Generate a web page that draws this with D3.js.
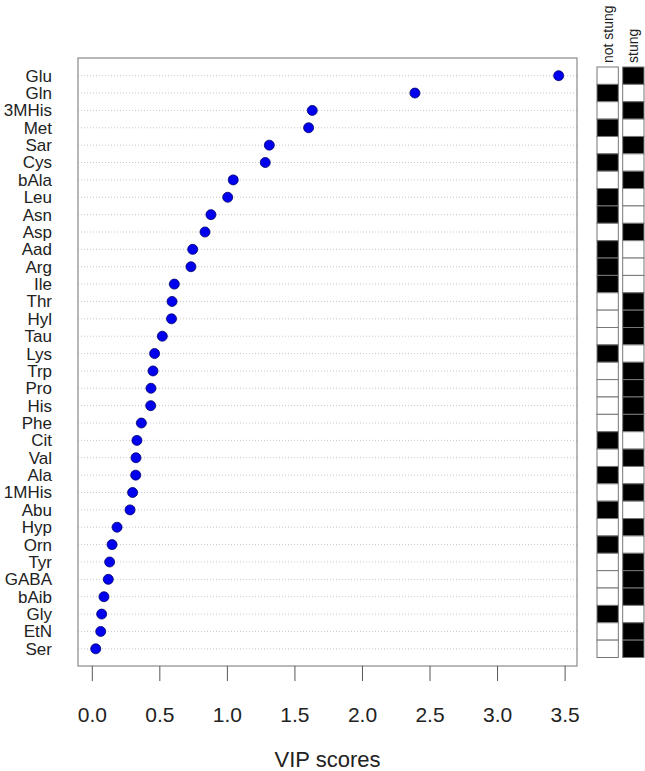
<!DOCTYPE html>
<html>
<head>
<meta charset="utf-8">
<script src="https://cdn.jsdelivr.net/npm/d3@7"></script>
<style>
  body { margin: 0; background: #fff; }
  text { font-family: "Liberation Sans", Arial, sans-serif; fill: #222; }
</style>
</head>
<body>
<script>
var w = 645;
var h = 771;

// metabolites, top to bottom
var names = ["Glu", "Gln", "3MHis", "Met", "Sar", "Cys", "bAla", "Leu", "Asn", "Asp",
  "Aad", "Arg", "Ile", "Thr", "Hyl", "Tau", "Lys", "Trp", "Pro", "His", "Phe", "Cit",
  "Val", "Ala", "1MHis", "Abu", "Hyp", "Orn", "Tyr", "GABA", "bAib", "Gly", "EtN", "Ser"];

var vip = [3.456, 2.392, 1.632, 1.605, 1.314, 1.284, 1.047, 1.006, 0.882, 0.838,
  0.747, 0.734, 0.611, 0.594, 0.590, 0.522, 0.465, 0.453, 0.438, 0.436, 0.367, 0.334,
  0.327, 0.325, 0.302, 0.283, 0.187, 0.150, 0.132, 0.122, 0.090, 0.073, 0.066, 0.029];

// 1 = black cell (higher in that group), 0 = white
var notStung = [0, 1, 0, 1, 0, 1, 0, 1, 1, 0, 1, 1, 1, 0, 0, 0, 1, 0, 0, 0, 0, 1,
  0, 1, 0, 1, 0, 1, 0, 0, 0, 1, 0, 0];
var stung = [1, 0, 1, 0, 1, 0, 1, 0, 0, 1, 0, 0, 0, 1, 1, 1, 0, 1, 1, 1, 1, 0,
  1, 0, 1, 0, 1, 0, 1, 1, 1, 0, 1, 1];

var groups = ["not stung", "stung"];
var xTicks = [0, 0.5, 1, 1.5, 2, 2.5, 3, 3.5];

var svg = d3.select("body").append("svg").attr("width", w).attr("height", h);

// plot box
var box = { left: 78, right: 577, top: 58, bottom: 666 };

var x = d3.scaleLinear().domain([0, 3.5]).range([91.8, 564.6]);
var y = d3.scaleBand().domain(names).range([67, 657.5]).padding(0);
var yc = function (d) { return y(d) + y.bandwidth() / 2; };

// dotted guide lines
svg.append("g")
  .selectAll("line")
  .data(names)
  .enter()
  .append("line")
  .attr("x1", box.left)
  .attr("x2", box.right)
  .attr("y1", yc)
  .attr("y2", yc)
  .attr("stroke", "#c8c8c8")
  .attr("stroke-width", 1)
  .attr("stroke-dasharray", "1,2");

svg.append("rect")
  .attr("x", box.left)
  .attr("y", box.top)
  .attr("width", box.right - box.left)
  .attr("height", box.bottom - box.top)
  .attr("fill", "none")
  .attr("stroke", "#8a8a8a")
  .attr("stroke-width", 1.2);

// row labels
svg.append("g")
  .selectAll("text")
  .data(names)
  .enter()
  .append("text")
  .attr("x", 52)
  .attr("y", yc)
  .attr("dy", "0.35em")
  .attr("text-anchor", "end")
  .attr("font-size", "17px")
  .text(function (d) { return d; });

// points
svg.append("g")
  .selectAll("circle")
  .data(vip)
  .enter()
  .append("circle")
  .attr("cx", function (d) { return x(d); })
  .attr("cy", function (d, i) { return yc(names[i]); })
  .attr("r", 5)
  .attr("fill", "#0000ee")
  .attr("stroke", "#00006a")
  .attr("stroke-width", 0.8);

// x axis
var xAxis = d3.axisBottom(x)
  .tickValues(xTicks)
  .tickFormat(d3.format(".1f"))
  .tickSize(15)
  .tickPadding(26);

var gx = svg.append("g")
  .attr("transform", "translate(0," + box.bottom + ")")
  .call(xAxis);
gx.select(".domain").remove();
gx.selectAll("line").attr("stroke", "#555");
gx.selectAll("text")
  .attr("font-size", "21px")
  .attr("font-family", "Liberation Sans, Arial, sans-serif")
  .attr("fill", "#222");

svg.append("text")
  .attr("x", (box.left + box.right) / 2)
  .attr("y", 767)
  .attr("text-anchor", "middle")
  .attr("font-size", "22px")
  .text("VIP scores");

// group indicator columns
var gxScale = d3.scaleBand().domain(groups).range([597, 644]).paddingInner(0.17);
var cols = [notStung, stung];

cols.forEach(function (col, k) {
  var g = groups[k];
  svg.append("g")
    .selectAll("rect")
    .data(col)
    .enter()
    .append("rect")
    .attr("x", gxScale(g))
    .attr("y", function (d, i) { return y(names[i]); })
    .attr("width", gxScale.bandwidth())
    .attr("height", y.bandwidth())
    .attr("fill", function (d) { return d ? "#000" : "#fff"; })
    .attr("stroke", "#777")
    .attr("stroke-width", 1);

  var cx = gxScale(g) + gxScale.bandwidth() / 2 + 5;
  svg.append("text")
    .attr("transform", "translate(" + cx + ",63) rotate(-90)")
    .attr("text-anchor", "start")
    .attr("font-size", "14px")
    .text(g);
});
</script>
</body>
</html>
